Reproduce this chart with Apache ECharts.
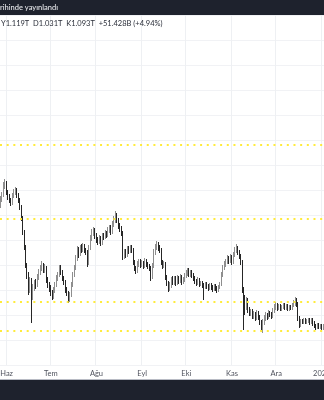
<!DOCTYPE html>
<html><head><meta charset="utf-8">
<script src="https://cdn.jsdelivr.net/npm/echarts@6/dist/echarts.min.js"></script>
<style>html,body{margin:0;padding:0;background:#fff;overflow:hidden}#c{width:324px;height:400px}</style>
</head><body><div id="c"></div><script>
// ---- data ----
const startDate = [2022, 4, 28]; // 28 May 2022, daily candles
const dayCount = 220;
const monthNames = ['Oca','Şub','Mar','Nis','May','Haz','Tem','Ağu','Eyl','Eki','Kas','Ara'];
const opens = [1120,1130,1140,1160,1164,1146,1136,1130,1124,1138,1146,1150,1140,1130,1116,1094,1066,1036,1000,980,
950,970,936,956,964,960,976,986,994,1000,990,994,970,960,954,944,938,950,960,974,
980,994,986,974,966,950,944,930,940,960,980,994,1014,1030,1022,1034,1030,1038,1030,1026,
1004,1034,1054,1064,1070,1058,1050,1046,1054,1044,1058,1056,1064,1060,1070,1074,1066,1082,1090,1098,
1090,1078,1072,1064,1016,1026,1020,1032,1028,1034,1030,1006,994,988,1002,1006,1000,1004,998,1008,
1002,998,994,976,998,1026,1036,1040,1034,1030,1006,998,1002,976,964,954,960,970,966,972,
964,974,968,976,966,970,978,984,988,980,986,980,974,968,964,970,962,964,960,956,
962,958,954,960,956,952,958,954,950,956,962,980,994,1002,1006,1014,1008,1016,1006,1020,
1030,1034,1026,1018,1006,950,930,920,930,910,904,906,898,902,894,904,896,886,876,886,
894,900,896,904,902,898,908,916,920,914,918,912,916,920,914,918,912,916,914,920,
924,930,922,894,880,888,886,890,886,888,890,886,890,884,878,876,880,876,878,874];
const closes = [1130,1140,1160,1164,1146,1136,1130,1124,1138,1146,1150,1140,1130,1116,1094,1066,1036,1000,980,950,
970,936,956,964,960,976,986,994,1000,990,994,970,960,954,944,938,950,960,974,980,
994,986,974,966,950,944,930,940,960,980,994,1014,1030,1022,1034,1030,1038,1030,1026,1004,
1034,1054,1064,1070,1058,1050,1046,1054,1044,1058,1056,1064,1060,1070,1074,1066,1082,1090,1098,1090,
1078,1072,1064,1016,1026,1020,1032,1028,1034,1030,1006,994,988,1002,1006,1000,1004,998,1008,1002,
998,994,976,998,1026,1036,1040,1034,1030,1006,998,1002,976,964,954,960,970,966,972,964,
974,968,976,966,970,978,984,988,980,986,980,974,968,964,970,962,964,960,956,962,
958,954,960,956,952,958,954,950,956,962,980,994,1002,1006,1014,1008,1016,1006,1020,1030,
1034,1026,1018,1006,950,930,920,930,910,904,906,898,902,894,904,896,886,876,886,894,
900,896,904,902,898,908,916,920,914,918,912,916,920,914,918,912,916,914,920,924,
930,922,894,880,888,886,890,886,888,890,886,890,884,878,876,880,876,878,874,878];
const lows = [1114,1126,1136,1152,1140,1130,1124,1118,1120,1134,1140,1134,1124,1110,1088,1060,1030,994,972,940,
944,884,930,948,952,956,970,980,988,984,984,964,954,946,938,930,932,944,956,968,
976,980,968,960,944,938,924,926,936,956,976,990,1008,1014,1018,1024,1026,1024,1020,996,
1000,1030,1048,1058,1052,1044,1040,1042,1038,1040,1050,1052,1054,1056,1064,1060,1062,1076,1084,1084,
1072,1066,1058,1010,1012,1014,1016,1022,1024,1024,1000,988,982,984,996,994,996,992,994,996,
992,988,968,972,994,1020,1030,1028,1024,1000,992,994,970,958,946,948,954,960,960,958,
960,962,964,960,962,966,974,978,976,976,974,968,962,958,960,956,958,954,930,952,
952,948,950,950,946,948,948,944,946,952,958,976,990,996,1002,1002,1004,1000,1002,1016,
1024,1020,1012,1000,944,870,900,910,904,898,898,892,892,888,890,890,880,870,864,880,
888,890,892,896,892,894,904,910,908,910,908,908,912,910,910,908,908,910,910,916,
918,916,888,874,876,882,882,882,882,884,880,882,878,874,870,872,872,872,868,870];
const highs = [1138,1146,1166,1172,1168,1150,1142,1134,1144,1152,1156,1154,1144,1134,1120,1098,1070,1040,1004,986,
976,974,962,970,972,982,992,1000,1008,1004,1002,998,976,966,960,950,956,966,980,986,
1000,1000,990,978,970,956,948,946,966,986,1000,1020,1038,1036,1040,1042,1044,1042,1034,1030,
1040,1060,1072,1076,1074,1064,1056,1060,1058,1064,1064,1070,1068,1076,1080,1080,1088,1098,1108,1104,
1094,1084,1078,1068,1032,1032,1038,1038,1040,1040,1034,1010,998,1008,1012,1012,1010,1008,1014,1012,
1006,1002,998,1004,1032,1042,1048,1046,1040,1034,1010,1008,1006,980,968,966,976,978,978,978,
980,978,982,980,976,984,990,994,994,990,990,984,978,972,976,974,968,968,964,966,
966,962,964,964,960,962,962,958,960,966,986,1000,1008,1012,1020,1018,1022,1020,1026,1036,
1042,1038,1030,1022,1010,956,940,936,934,916,912,912,908,906,910,908,900,890,892,900,
906,904,910,908,906,914,922,926,924,922,922,920,924,924,922,922,920,920,924,930,
936,934,926,898,892,892,894,894,892,894,894,894,894,888,882,884,884,882,882,882];
const levels = [1241, 1093, 927, 869];
const headerText = 'rihinde yayınlandı';
const ohlcText = 'Y1.119T  D1.031T  K1.093T  +51.428B (+4.94%)';

// ---- build ----
const dates = [];
for (let i = 0; i < dayCount; i++) {
  const d = new Date(Date.UTC(startDate[0], startDate[1], startDate[2] + i));
  dates.push(d.toISOString().slice(0, 10));
}
const candles = opens.map((o, i) => [o, closes[i], lows[i], highs[i]]);
const isMonthStart = (idx, val) => (val || dates[idx]).slice(8) === '01';

const chart = echarts.init(document.getElementById('c'), null, {renderer: 'canvas'});
chart.setOption({
  animation: false,
  backgroundColor: '#ffffff',
  grid: {left: 0, right: 0, top: 15, height: 350, outerBoundsMode: 'none', containLabel: false},
  xAxis: {
    type: 'category', data: dates, boundaryGap: true,
    axisLine: {show: false}, axisTick: {show: false},
    axisLabel: {
      interval: isMonthStart, margin: 5, fontSize: 7.5, color: '#50535e',
      fontFamily: 'Lato, "Noto Sans", sans-serif',
      formatter: v => { const m = +v.slice(5, 7) - 1; return m === 0 ? v.slice(0, 4) : monthNames[m]; }
    },
    splitLine: {show: true, interval: isMonthStart, lineStyle: {color: '#eef0f3', width: 1}}
  },
  yAxis: {
    type: 'value', min: 800, max: 1500, interval: 50, position: 'right',
    axisLine: {show: false}, axisTick: {show: false}, axisLabel: {show: false},
    splitLine: {show: true, lineStyle: {color: '#f1f2f5', width: 1}}
  },
  series: [{
    type: 'candlestick', data: candles, barWidth: '85%',
    itemStyle: {color: '#9a9a9a', color0: '#262626', borderColor: '#8e8e8e', borderColor0: '#262626', borderWidth: 1},
    markLine: {
      silent: true, symbol: ['none', 'none'], label: {show: false},
      lineStyle: {color: '#ffeb3b', width: 2, type: [2, 4.67], opacity: 1},
      emphasis: {disabled: true},
      data: levels.map(v => ({yAxis: v}))
    }
  }],
  graphic: [
    {type: 'rect', z: 100, shape: {x: 0, y: 0, width: 324, height: 15}, style: {fill: '#1e222d'}},
    {type: 'text', z: 101, x: 0, y: 8, style: {text: headerText, fill: '#e8e9ec', fontSize: 7.5, fontWeight: 500, fontFamily: 'Lato, "Noto Sans", sans-serif', verticalAlign: 'middle'}},
    {type: 'text', z: 101, x: 1, y: 24, style: {text: ohlcText, fill: '#2a2e39', fontSize: 7.5, fontFamily: 'Lato, "Noto Sans", sans-serif', verticalAlign: 'middle'}},
    {type: 'rect', z: 100, shape: {x: 0, y: 379, width: 324, height: 1}, style: {fill: '#b8bbc4'}},
    {type: 'rect', z: 100, shape: {x: 0, y: 380, width: 324, height: 20}, style: {fill: '#1e222d'}}
  ]
});
</script></body></html>
